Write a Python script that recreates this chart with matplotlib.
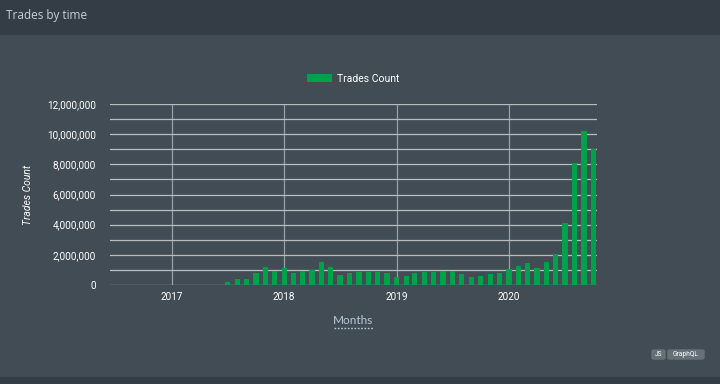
import matplotlib
matplotlib.use("Agg")
import matplotlib.pyplot as plt
import matplotlib.dates as mdates
from matplotlib.patches import Rectangle, FancyBboxPatch
from matplotlib.ticker import FuncFormatter, MultipleLocator
import datetime as dt

# monthly trade counts, Jun 2017 .. Oct 2020
months = ["2017-06", "2017-07", "2017-08", "2017-09", "2017-10", "2017-11", "2017-12",
          "2018-01", "2018-02", "2018-03", "2018-04", "2018-05", "2018-06",
          "2018-07", "2018-08", "2018-09", "2018-10", "2018-11", "2018-12",
          "2019-01", "2019-02", "2019-03", "2019-04", "2019-05", "2019-06",
          "2019-07", "2019-08", "2019-09", "2019-10", "2019-11", "2019-12",
          "2020-01", "2020-02", "2020-03", "2020-04", "2020-05", "2020-06",
          "2020-07", "2020-08", "2020-09", "2020-10"]
trades = [30000, 190000, 420000, 370000, 780000, 1170000, 950000,
          1120000, 780000, 910000, 1000000, 1510000, 1170000,
          670000, 820000, 890000, 840000, 890000, 820000,
          520000, 580000, 820000, 870000, 870000, 910000,
          930000, 730000, 510000, 580000, 730000, 780000,
          1040000, 1270000, 1470000, 1110000, 1510000, 2070000,
          4090000, 8070000, 10210000, 9040000]

dates = [dt.datetime.strptime(m, "%Y-%m") for m in months]

bg = "#414c54"
header = "#343d46"
green = "#00a14b"

fig = plt.figure(figsize=(7.2, 3.84), dpi=100, facecolor=bg)

# header strip and bottom strip
fig.patches.append(Rectangle((0, 1 - 34 / 384), 1, 34 / 384, transform=fig.transFigure,
                             color=header, zorder=0))
fig.patches.append(Rectangle((0, 0), 1, 7 / 384, transform=fig.transFigure,
                             color=header, zorder=0))
fig.text(6 / 720, 1 - 16 / 384, "Trades by time", color="#c9ced3", fontsize=8.5,
         family="Open Sans", va="center", ha="left")

ax = fig.add_axes([110 / 720, 1 - 285 / 384, 487 / 720, 181 / 384])
ax.set_facecolor(bg)

ax.bar(dates, trades, width=17, color=green, label="Trades Count", zorder=3)

ax.set_ylim(0, 12000000)
ax.set_xlim(dt.datetime(2016, 6, 14), dt.datetime(2020, 10, 13))

ax.yaxis.set_major_locator(MultipleLocator(2000000))
ax.yaxis.set_minor_locator(MultipleLocator(1000000))
ax.yaxis.set_major_formatter(FuncFormatter(lambda v, p: f"{int(v):,}"))
ax.xaxis.set_major_locator(mdates.YearLocator())
ax.xaxis.set_major_formatter(mdates.DateFormatter("%Y"))

ax.grid(axis="y", which="both", color="#b8bdc1", linewidth=0.9, zorder=1)
ax.grid(axis="x", which="major", color="#9ba2a7", linewidth=0.9, zorder=1)

for s in ax.spines.values():
    s.set_visible(False)
ax.tick_params(axis="both", which="both", length=0, colors="white", labelsize=7.2)
ax.tick_params(axis="y", pad=10)
ax.tick_params(axis="x", pad=5)
for lbl in ax.get_xticklabels() + ax.get_yticklabels():
    lbl.set_family("Roboto")

ax.set_ylabel("Trades Count", color="white", fontsize=7.5, style="italic",
              family="Roboto", labelpad=10)

leg = ax.legend(loc="lower center", bbox_to_anchor=(0.5, 1.06), frameon=False,
                prop={"family": "Roboto", "size": 7.5}, handlelength=2.4,
                handleheight=0.9, handletextpad=0.5)
for t in leg.get_texts():
    t.set_color("white")

fig.text(353 / 720, 1 - 321 / 384, "Months", color="#b9c7d6", fontsize=8.5,
         family="Lato", ha="center", va="center")
fig.lines.append(plt.Line2D([334 / 720, 373 / 720], [1 - 328 / 384] * 2,
                            transform=fig.transFigure, color="#b9c7d6",
                            linewidth=1, linestyle=(0, (1.2, 1.2))))

# small badges
for label, x0, w in [("JS", 652, 13), ("GraphQL", 668, 36)]:
    fig.patches.append(FancyBboxPatch((x0 / 720, 1 - 359 / 384), w / 720, 9 / 384,
                                      boxstyle="round,pad=0,rounding_size=0.003",
                                      transform=fig.transFigure, color="#667077"))
    fig.text((x0 + w / 2) / 720, 1 - 354.5 / 384, label, color="white", fontsize=4.8,
             family="Roboto", ha="center", va="center")

fig.savefig("out.png", dpi=100, facecolor=bg)
